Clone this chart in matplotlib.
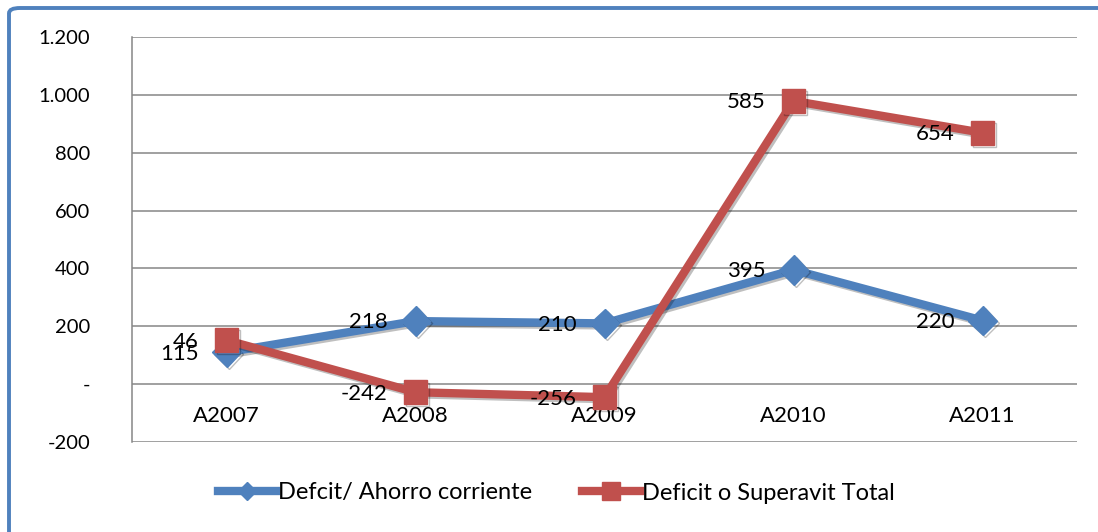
import matplotlib
matplotlib.use("Agg")
import matplotlib.pyplot as plt
import matplotlib.patheffects as pe
from matplotlib.patches import FancyBboxPatch
import numpy as np

# values
years = ["A2007", "A2008", "A2009", "A2010", "A2011"]
ahorro = [110, 218, 210, 395, 220]
superavit = [152, -28, -45, 979, 869]
# the data labels printed in the chart (they differ from the plotted points)
ahorro_labels = ["115", "218", "210", "395", "220"]
superavit_labels = ["46", "-242", "-256", "585", "654"]
yticks = [-200, 0, 200, 400, 600, 800, 1000, 1200]
ytick_labels = ["-200", "-", "200", "400", "600", "800", "1.000", "1.200"]

plt.rcParams['font.family'] = ['Lato', 'DejaVu Sans']

blue = "#4F81BD"
red = "#C0504D"
grid_col = "#868686"

fig = plt.figure(figsize=(10.98, 5.32), dpi=100)
ax = fig.add_axes([132 / 1098, 1 - 442 / 532, (1077 - 132) / 1098, (442 - 37) / 532])

x = np.arange(len(years))
shadow = [pe.SimpleLineShadow(offset=(1.5, -1.5), alpha=0.25, shadow_color="black"), pe.Normal()]

ax.plot(x, ahorro, color=blue, lw=6, marker="D", markersize=15, markeredgecolor=blue,
        label="Defcit/ Ahorro corriente", path_effects=shadow, zorder=3)
ax.plot(x, superavit, color=red, lw=6, marker="s", markersize=17, markeredgecolor=red,
        label="Deficit o Superavit Total", path_effects=shadow, zorder=4)

for i in range(len(years)):
    ax.annotate(ahorro_labels[i], (x[i], ahorro[i]), xytext=(-20, -1), textcoords="offset points",
                ha="right", va="center", fontsize=16, zorder=5)
    ax.annotate(superavit_labels[i], (x[i], superavit[i]), xytext=(-20, -1), textcoords="offset points",
                ha="right", va="center", fontsize=16, zorder=5)

ax.set_xlim(-0.5, len(years) - 0.5)
ax.set_ylim(-200, 1200)
ax.set_yticks(yticks)
ax.set_yticklabels(ytick_labels)
ax.set_xticks(x)
ax.set_xticklabels(years)
ax.tick_params(axis="y", length=0, pad=30, labelsize=14.5)
ax.tick_params(axis="x", length=0, pad=16, labelsize=16)

ax.grid(axis="y", color=grid_col, lw=1.1)
ax.set_axisbelow(True)
ax.spines["top"].set_visible(False)
ax.spines["right"].set_visible(False)
ax.spines["bottom"].set_position(("data", 0))
ax.spines["bottom"].set_visible(False)
ax.spines["left"].set_color(grid_col)
ax.spines["left"].set_linewidth(1.1)

leg = fig.legend(loc="center", bbox_to_anchor=(0.507, 1 - 493 / 532), ncol=2, frameon=False,
                 fontsize=17, handlelength=2.45, columnspacing=2.1, handletextpad=0.1)
# smaller markers in the legend keys, as in the reference
for h, ms in zip(leg.legend_handles, [9, 13]):
    h.set_markersize(ms)
    h.set_path_effects([])

# outer chart frame (only the left and top edges show in the picture)
frame = FancyBboxPatch((9 / 1098, -0.1), 1.2, 1.1 - 8 / 532,
                       boxstyle="round,pad=0,rounding_size=0.01", transform=fig.transFigure,
                       fill=False, edgecolor=blue, lw=2.8)
fig.patches.append(frame)

fig.savefig("out.png", dpi=100)
